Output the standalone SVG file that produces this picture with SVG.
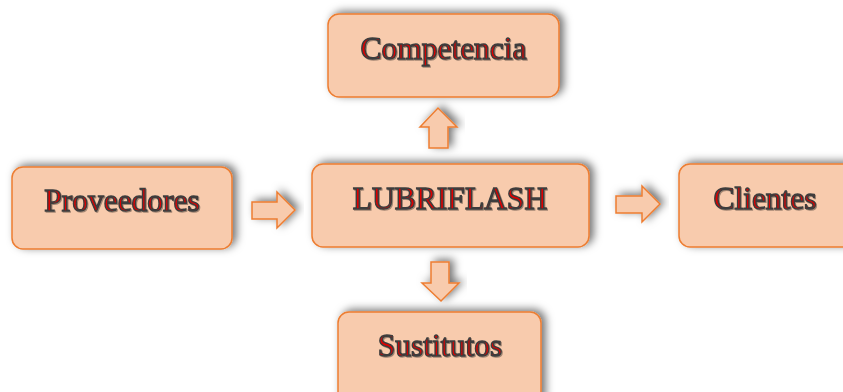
<svg xmlns="http://www.w3.org/2000/svg" width="843" height="392" viewBox="0 0 843 392">
<defs>
<filter id="sh" x="-20%" y="-30%" width="140%" height="160%">
<feDropShadow dx="4" dy="-2" stdDeviation="4" flood-color="#000" flood-opacity="0.55"/>
</filter>
<filter id="tsh" x="-10%" y="-20%" width="120%" height="140%">
<feDropShadow dx="1" dy="1" stdDeviation="0.6" flood-color="#000" flood-opacity="0.35"/>
</filter>
</defs>
<style>
.box{fill:#F8CBAD;stroke:#ED7D31;stroke-width:1.5;filter:url(#sh)}
.arr{fill:#F8CBAD;stroke:#ED7D31;stroke-width:1.5;filter:url(#sh)}
.lbl{font-family:"Liberation Serif","Times New Roman",serif;font-size:31.5px;fill:#E00000;stroke:#3C3C3C;stroke-width:1.4;text-anchor:middle;filter:url(#tsh)}
</style>
<g id="connectors">
<path class="arr" d="M252,202 H277 V192 L295,210 L277,228 V219 H252 Z"/>
<path class="arr" d="M616,196 H642 V186 L660,204 L642,222 V213 H616 Z"/>
<path class="arr" d="M429,148 V127 H420 L438,108 L457,127 H448 V148 Z"/>
<path class="arr" d="M431,262 V283 H422 L441,301 L459,283 H449 V262 Z"/>
</g>
<g id="competencia">
<rect class="box" x="328" y="14" width="231" height="83" rx="11"/>
<text class="lbl" x="443.5" y="59">Competencia</text>
</g>
<g id="proveedores">
<rect class="box" x="12" y="167" width="220" height="82" rx="11"/>
<text class="lbl" x="122" y="211">Proveedores</text>
</g>
<g id="lubriflash">
<rect class="box" x="312" y="164" width="277" height="83" rx="11"/>
<text class="lbl" x="450" y="209">LUBRIFLASH</text>
</g>
<g id="clientes">
<rect class="box" x="679" y="164" width="175" height="83" rx="11"/>
<text class="lbl" x="765" y="209">Clientes</text>
</g>
<g id="sustitutos">
<rect class="box" x="338" y="312" width="203" height="95" rx="11"/>
<text class="lbl" x="440" y="356">Sustitutos</text>
</g>
</svg>
